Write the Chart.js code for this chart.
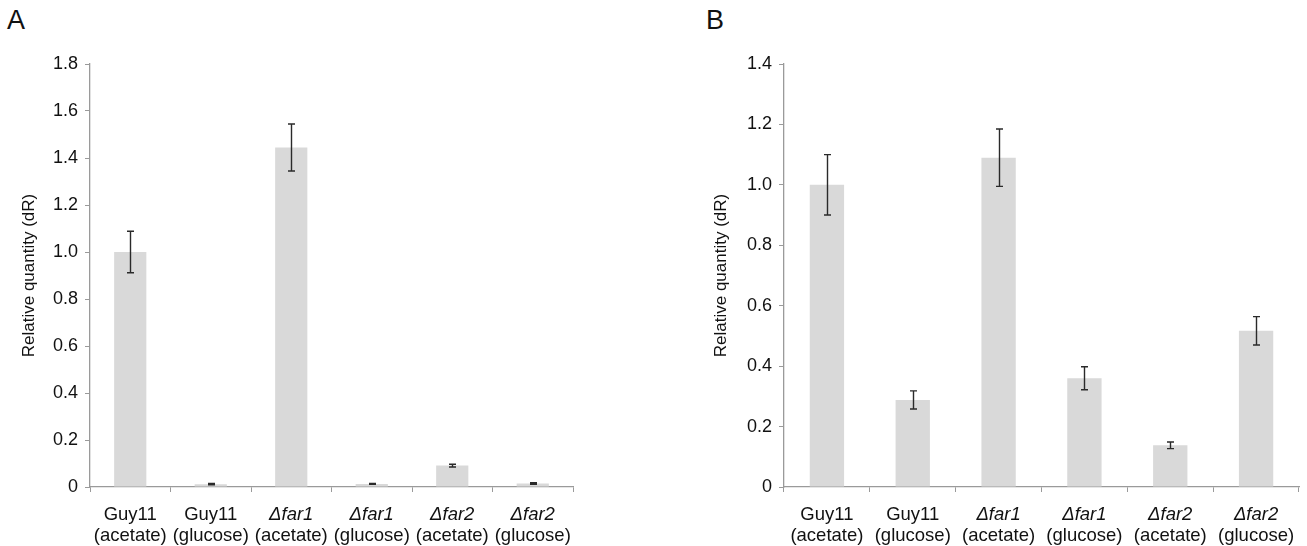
<!DOCTYPE html>
<html>
<head>
<meta charset="utf-8">
<script src="https://cdn.jsdelivr.net/npm/chart.js@4.4.0/dist/chart.umd.min.js"></script>
<style>
    html, body { margin: 0; padding: 0; background: #fff; }
    body { width: 1307px; height: 546px; position: relative; overflow: hidden; font-family: "Liberation Sans", Arial, sans-serif; }
    .panel { position: absolute; top: 0; height: 546px; }
    .letter { position: absolute; top: 5px; font-size: 27px; color: #111; }
</style>
</head>
<body>
<div class="letter" style="left:7px;">A</div>
<div class="letter" style="left:706px;">B</div>
<div class="panel" style="left:0; width:600px;"><canvas id="chartA"></canvas></div>
<div class="panel" style="left:700px; width:607px;"><canvas id="chartB"></canvas></div>
<script>
// --- Datos ---
const labelTop = ['Guy11', 'Guy11', 'Δfar1', 'Δfar1', 'Δfar2', 'Δfar2'];
const labelBottom = ['(acetate)', '(glucose)', '(acetate)', '(glucose)', '(acetate)', '(glucose)'];

// Panel A
const valuesA = [1.0, 0.012, 1.445, 0.013, 0.091, 0.015];
const errorsA = [0.088, 0.003, 0.1, 0.002, 0.006, 0.003];
const ticksA = [0, 0.2, 0.4, 0.6, 0.8, 1.0, 1.2, 1.4, 1.6, 1.8];

// Panel B
const valuesB = [1.0, 0.288, 1.09, 0.36, 0.138, 0.517];
const errorsB = [0.1, 0.03, 0.095, 0.038, 0.011, 0.047];
const ticksB = [0, 0.2, 0.4, 0.6, 0.8, 1.0, 1.2, 1.4];

const FONT = '"Liberation Sans", Arial, sans-serif';
const AXIS_GRAY = '#9a9a9a';

// --- Barras de error ---
const errorBarPlugin = {
    id: 'errorBars',
    afterDatasetsDraw(chart) {
        const errs = chart.options.plugins.errorBars.errors;
        const meta = chart.getDatasetMeta(0);
        const yScale = chart.scales.y;
        const vals = chart.data.datasets[0].data;
        const ctx = chart.ctx;
        ctx.save();
        ctx.strokeStyle = '#2a2a2a';
        ctx.lineWidth = 1.4;
        meta.data.forEach((bar, i) => {
            const x = Math.round(bar.x) + 0.5;
            const yTop = yScale.getPixelForValue(vals[i] + errs[i]);
            const yBot = yScale.getPixelForValue(vals[i] - errs[i]);
            ctx.beginPath();
            ctx.moveTo(x, yTop); ctx.lineTo(x, yBot);
            ctx.moveTo(x - 3.5, yTop); ctx.lineTo(x + 3.5, yTop);
            ctx.moveTo(x - 3.5, yBot); ctx.lineTo(x + 3.5, yBot);
            ctx.stroke();
        });
        ctx.restore();
    }
};

// --- Etiquetas del eje X (cepa en cursiva si es mutante) ---
const xLabelPlugin = {
    id: 'xLabels',
    afterDraw(chart) {
        const xScale = chart.scales.x;
        const ctx = chart.ctx;
        ctx.save();
        ctx.fillStyle = '#111';
        ctx.textAlign = 'center';
        ctx.textBaseline = 'middle';
        labelTop.forEach((t, i) => {
            const x = xScale.getPixelForValue(i);
            ctx.font = (t.startsWith('Δ') ? 'italic ' : '') + '18.5px ' + FONT;
            ctx.fillText(t, x, 515);
            ctx.font = '18.5px ' + FONT;
            ctx.fillText(labelBottom[i], x, 536);
        });
        ctx.restore();
    }
};

function makeChart(id, values, errors, ticks, yWidth, padRight, titlePad) {
    const max = ticks[ticks.length - 1];
    return new Chart(document.getElementById(id), {
        type: 'bar',
        data: {
            labels: labelTop.map((t, i) => t + ' ' + labelBottom[i]),
            datasets: [{
                data: values,
                backgroundColor: '#d9d9d9',
                borderWidth: 0,
                categoryPercentage: 1.0,
                barPercentage: 0.4
            }]
        },
        options: {
            responsive: true,
            maintainAspectRatio: false,
            animation: false,
            layout: { padding: { top: 64, right: padRight, left: 0, bottom: 0 } },
            plugins: {
                legend: { display: false },
                tooltip: { enabled: false },
                errorBars: { errors: errors }
            },
            scales: {
                x: {
                    offset: true,
                    border: { color: AXIS_GRAY, width: 1.3 },
                    grid: { offset: true, drawOnChartArea: false, tickLength: 5, color: AXIS_GRAY },
                    ticks: { display: false },
                    afterFit(scale) { scale.height = 59; }
                },
                y: {
                    min: 0,
                    max: max,
                    border: { color: AXIS_GRAY, width: 1.3 },
                    grid: { drawOnChartArea: false, tickLength: 5, color: AXIS_GRAY },
                    afterBuildTicks(scale) { scale.ticks = ticks.map(v => ({ value: v })); },
                    ticks: {
                        padding: 7,
                        color: '#111',
                        font: { family: FONT, size: 18 },
                        callback: v => v === 0 ? '0' : v.toFixed(1)
                    },
                    title: {
                        display: true,
                        text: 'Relative quantity (dR)',
                        color: '#111',
                        font: { family: FONT, size: 17 },
                        padding: { top: titlePad, bottom: 0 }
                    },
                    afterFit(scale) { scale.width = yWidth; }
                }
            }
        },
        plugins: [errorBarPlugin, xLabelPlugin]
    });
}

document.addEventListener('DOMContentLoaded', () => {
    makeChart('chartA', valuesA, errorsA, ticksA, 90, 27, 19);
    makeChart('chartB', valuesB, errorsB, ticksB, 84, 8, 11);
});
</script>
</body>
</html>
